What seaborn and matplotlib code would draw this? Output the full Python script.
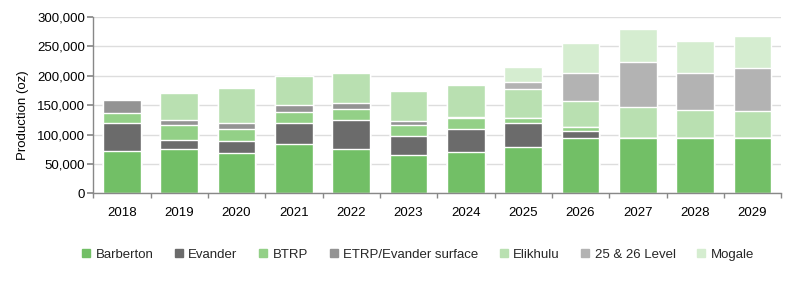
import matplotlib
matplotlib.use("Agg")
import matplotlib.pyplot as plt
import seaborn as sns
import pandas as pd
import numpy as np
from matplotlib.lines import Line2D
from matplotlib.ticker import FuncFormatter, MultipleLocator, FixedLocator

years = ["2018", "2019", "2020", "2021", "2022", "2023", "2024", "2025", "2026", "2027", "2028", "2029"]
barberton = [72000, 75000, 68000, 84000, 75000, 65000, 71000, 79000, 94500, 94500, 94500, 94500]
evander = [48000, 16500, 20500, 36500, 49000, 32000, 38500, 40000, 11000, 0, 0, 0]
btrp = [17500, 24500, 20500, 17500, 19000, 20000, 18000, 10000, 7000, 0, 0, 0]
etrp = [21500, 9000, 10000, 11500, 10000, 6000, 3000, 0, 0, 0, 0, 0]
elikhulu = [0, 46500, 59500, 51000, 52000, 51000, 54500, 48500, 44500, 52000, 47000, 45000]
level_25_26 = [0, 0, 0, 0, 0, 0, 0, 12000, 48000, 77000, 62500, 74000]
mogale = [0, 0, 0, 0, 0, 0, 0, 25500, 51500, 57000, 56000, 55000]

series_names = ["Barberton", "Evander", "BTRP", "ETRP/Evander surface", "Elikhulu", "25 & 26 Level", "Mogale"]
series_vals = [barberton, evander, btrp, etrp, elikhulu, level_25_26, mogale]
colors = ["#72bf66", "#6b6b6b", "#93d087", "#939393", "#b9e0b1", "#b3b3b3", "#d5edd0"]

sns.set_theme(style="white")
plt.rcParams["font.family"] = ["Liberation Sans", "DejaVu Sans"]

cum = np.zeros(len(years))
cums = []
for v in series_vals:
    cum = cum + np.array(v, dtype=float)
    cums.append(cum.copy())

fig = plt.figure(figsize=(8, 2.89), dpi=100)
ax = fig.add_axes([0.1165, 0.331, 0.86, 0.61])

for name, c, col in reversed(list(zip(series_names, cums, colors))):
    d = pd.DataFrame({"year": years, "val": c})
    sns.barplot(data=d, x="year", y="val", color=col, width=0.66, ax=ax,
                edgecolor="white", linewidth=1.0, saturation=1)

ax.set_ylim(0, 300000)
ax.set_xlim(-0.5, len(years) - 0.5)
ax.yaxis.set_major_locator(MultipleLocator(50000))
ax.yaxis.set_major_formatter(FuncFormatter(lambda v, p: f"{int(v):,}"))
ax.set_xlabel("")
ax.set_ylabel("Production (oz)", fontsize=9.5, color="#000000")
ax.yaxis.set_label_coords(-0.094, 0.443)
ax.grid(axis="y", color="#dddddd", linewidth=1.0)
ax.set_axisbelow(True)
for s in ["top", "right"]:
    ax.spines[s].set_visible(False)
for s in ["left", "bottom"]:
    ax.spines[s].set_color("#888888")
    ax.spines[s].set_linewidth(1.0)
ax.tick_params(axis="y", which="major", left=True, length=4, color="#888888",
               labelsize=9.5, labelcolor="#000000", pad=2)
ax.tick_params(axis="x", which="major", bottom=False, labelsize=9.5, labelcolor="#000000", pad=4)
ax.xaxis.set_minor_locator(FixedLocator(np.arange(-0.5, len(years), 1.0)))
ax.tick_params(axis="x", which="minor", bottom=True, length=3.5, color="#888888")

handles = [Line2D([0], [0], marker="s", linestyle="none", markersize=6,
                  markerfacecolor=col, markeredgecolor=col) for col in colors]
fig.legend(handles, series_names, loc="center", bbox_to_anchor=(0.521, 0.118), ncol=7,
           frameon=False, fontsize=9.5, handletextpad=0.2, columnspacing=1.45,
           handlelength=1.0)

fig.savefig("out.png", dpi=100)
